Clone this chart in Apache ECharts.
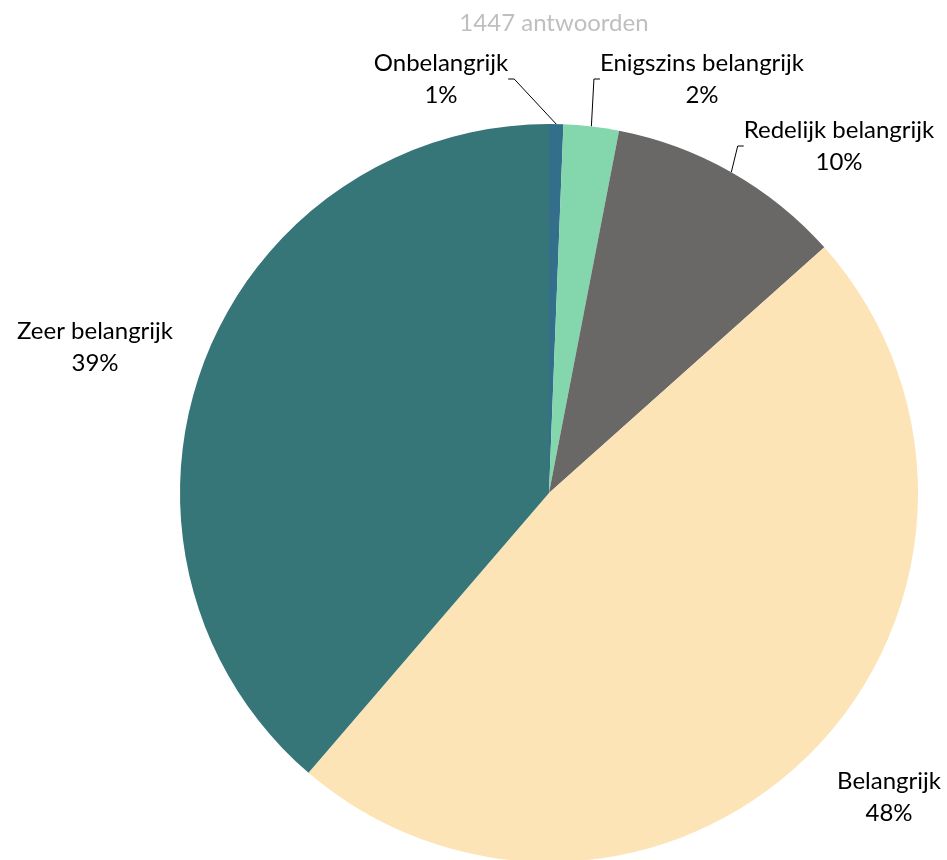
<!DOCTYPE html>
<html>
<head>
<meta charset="utf-8">
<script src="https://cdn.jsdelivr.net/npm/echarts@6/dist/echarts.min.js"></script>
<style>
  html, body { margin: 0; padding: 0; background: #ffffff; }
  #chart { width: 947px; height: 860px; }
</style>
</head>
<body>
<div id="chart"></div>
<script>
// Survey answers: how important is this topic (1447 respondents)
const categories = ['Onbelangrijk', 'Enigszins belangrijk', 'Redelijk belangrijk', 'Belangrijk', 'Zeer belangrijk'];
const counts = [9, 35, 150, 693, 560];
const sliceColors = ['#336E8A', '#84D6AC', '#6A6866', '#FCE4B6', '#367679'];
const titleText = '1447 antwoorden';

// Label anchor points (centre of each two-line label block)
const labelSpots = [
  [441, 79],
  [702, 79],
  [839, 146],
  [889, 797],
  [95, 347]
];
const showLeader = [true, true, true, false, false];

const FONT = 'Lato, "Open Sans", sans-serif';

const chart = echarts.init(document.getElementById('chart'), null, { renderer: 'canvas' });

chart.setOption({
  animation: false,
  title: {
    text: titleText,
    left: 549,
    top: 6,
    textAlign: 'center',
    textStyle: { color: '#BFBFBF', fontSize: 24, fontWeight: 'normal', fontFamily: FONT }
  },
  series: [{
    type: 'pie',
    center: [549, 493],
    radius: 369,
    startAngle: 90,
    clockwise: true,
    avoidLabelOverlap: false,
    label: {
      show: true,
      position: 'outside',
      color: '#000000',
      fontSize: 24,
      lineHeight: 32,
      fontFamily: FONT,
      align: 'center',
      formatter: p => p.name + '\n' + Math.round(p.percent) + '%'
    },
    labelLine: {
      show: true,
      length: 10,
      length2: 6,
      lineStyle: { color: '#000000', width: 1 }
    },
    labelLayout: function (params) {
      const s = labelSpots[params.dataIndex];
      return { x: s[0], y: s[1], align: 'center', verticalAlign: 'middle' };
    },
    itemStyle: { borderWidth: 0 },
    emphasis: { disabled: true },
    data: categories.map((name, i) => ({
      name: name,
      value: counts[i],
      itemStyle: { color: sliceColors[i] },
      labelLine: { show: showLeader[i] }
    }))
  }]
});
</script>
</body>
</html>
